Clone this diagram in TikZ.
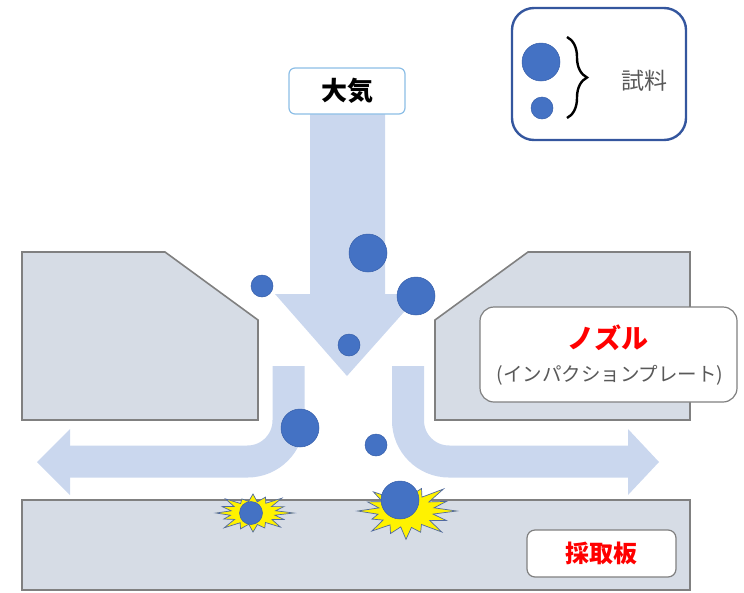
\documentclass[tikz,border=0pt]{standalone}
\usepackage{fontspec}
\newfontfamily\jp{Noto Sans CJK JP}
\usetikzlibrary{decorations.pathreplacing}

\definecolor{dotblue}{RGB}{68,114,196}
\definecolor{dotedge}{RGB}{55,95,170}
\definecolor{flowblue}{RGB}{202,215,238}
\definecolor{plategray}{RGB}{214,220,229}
\definecolor{plateedge}{RGB}{128,128,128}
\definecolor{legendedge}{RGB}{52,86,158}
\definecolor{airedge}{RGB}{140,190,230}
\definecolor{labelgray}{RGB}{89,89,89}
\definecolor{labelred}{RGB}{255,0,0}
\definecolor{burstedge}{RGB}{80,105,160}

\tikzset{
  plate/.style={fill=plategray, draw=plateedge, line width=1.6pt, line join=miter},
  flowband/.style={draw=flowblue, line width=32pt, line cap=butt},
  flowhead/.style={fill=flowblue, draw=none},
  dot/.style={circle, fill=dotblue, draw=dotedge, line width=0.5pt, inner sep=0pt, minimum size=#1},
  burststy/.style={fill=yellow, draw=burstedge, line width=0.7pt, line join=miter},
  tagbox/.style={draw=plateedge, fill=white, line width=1.2pt, inner sep=0pt},
}

\begin{document}
\begin{tikzpicture}[x=1pt, y=-1pt]
\useasboundingbox (0,0) rectangle (744,592);

% incoming air flow, straight down
\fill[flowblue] (310,112) -- (385,112) -- (385,294) -- (420,294) -- (347,376)
  -- (275,294) -- (310,294) -- cycle;

% outgoing flows, bent to each side
\draw[flowband, rounded corners=41pt] (288.5,366) -- (288.5,461.5) -- (70,461.5);
\fill[flowhead] (70,429) -- (37,462) -- (70,495) -- cycle;
\draw[flowband, rounded corners=41pt] (408,366) -- (408,461.5) -- (628,461.5);
\fill[flowhead] (628,429) -- (659,462) -- (628,495) -- cycle;

% nozzle halves
\draw[plate] (22,252) -- (165,252) -- (258,320) -- (258,420) -- (22,420) -- cycle;
\draw[plate] (690,252) -- (528,252) -- (435,320) -- (435,420) -- (690,420) -- cycle;

% collection plate
\draw[plate] (22,500) rectangle (690,590);

% impact bursts
\begin{scope}[shift={(253,513)}]
\draw[burststy] (0:{1.1*37} and {1.1*19})
  \foreach \a/\f in {11/0.6,22/0.9,34/0.62,45/1.05,56/0.6,68/0.85,79/0.62,90/1.0,
    101/0.6,112/0.9,124/0.62,135/1.1,146/0.6,158/0.85,169/0.62,180/1.0,191/0.6,
    202/0.9,214/0.62,225/1.05,236/0.6,248/0.8,259/0.62,270/1.0,281/0.6,292/0.9,
    304/0.62,315/1.1,326/0.6,338/0.9,349/0.62}
  { -- (\a:{\f*37} and {\f*19}) } -- cycle;
\end{scope}
\begin{scope}[shift={(406,511)}]
\draw[burststy] (0:{1.1*46} and {1.1*27})
  \foreach \a/\f in {11/0.6,22/0.95,34/0.62,45/1.1,56/0.6,68/0.85,79/0.62,90/1.05,
    101/0.6,112/0.9,124/0.62,135/1.05,146/0.6,158/0.8,169/0.62,180/1.05,191/0.6,
    202/0.9,214/0.62,225/1.0,236/0.6,248/0.85,259/0.62,270/1.0,281/0.6,292/0.9,
    304/0.62,315/1.15,326/0.6,338/0.95,349/0.62}
  { -- (\a:{\f*46} and {\f*27}) } -- cycle;
\end{scope}

% sample particles
\node[dot=38pt] (p1) at (368,253) {};
\node[dot=38pt] (p2) at (416,296) {};
\node[dot=22pt] (p3) at (262,286) {};
\node[dot=22pt] (p4) at (349,345) {};
\node[dot=38pt] (p5) at (300,428) {};
\node[dot=22pt] (p6) at (376,445) {};
\node[dot=38pt] (p7) at (400,500) {};
\node[dot=23pt] (p8) at (251,513) {};

% air label
\node[draw=airedge, fill=white, line width=1.2pt, rounded corners=6pt,
  minimum width=116pt, minimum height=46pt, inner sep=0pt] (air) at (347,91)
  {\jp\bfseries\fontsize{26}{30}\selectfont 大気};

% nozzle label
\node[tagbox, rounded corners=14pt, minimum width=257pt, minimum height=95pt]
  (nozbox) at (608.5,354.5) {};
\node[text=labelred, inner sep=0pt] (noz) at (608,338)
  {\jp\bfseries\fontsize{27}{30}\selectfont ノズル};
\node[text=labelgray, inner sep=0pt] (imp) at (610,375)
  {\jp\fontsize{19.5}{23}\selectfont (インパクションプレート)};

% plate label
\node[tagbox, rounded corners=8pt, minimum width=149pt, minimum height=47pt]
  (platebox) at (601.5,553.5) {};
\node[text=labelred, inner sep=0pt] (platetxt) at (601,553)
  {\jp\bfseries\fontsize{24}{28}\selectfont 採取板};

% legend
\draw[legendedge, line width=2.4pt, rounded corners=22pt] (512,8) rectangle (686,140);
\node[dot=38pt] (lg1) at (541,62) {};
\node[dot=22pt] (lg2) at (542,108) {};
\draw[line width=2.4pt, decorate, decoration={brace, amplitude=20pt, aspect=0.5}]
  (567,37) -- (567,118);
\node[text=labelgray, inner sep=0pt] (lgtxt) at (644,81)
  {\jp\fontsize{23}{27}\selectfont 試料};
\end{tikzpicture}
\end{document}
